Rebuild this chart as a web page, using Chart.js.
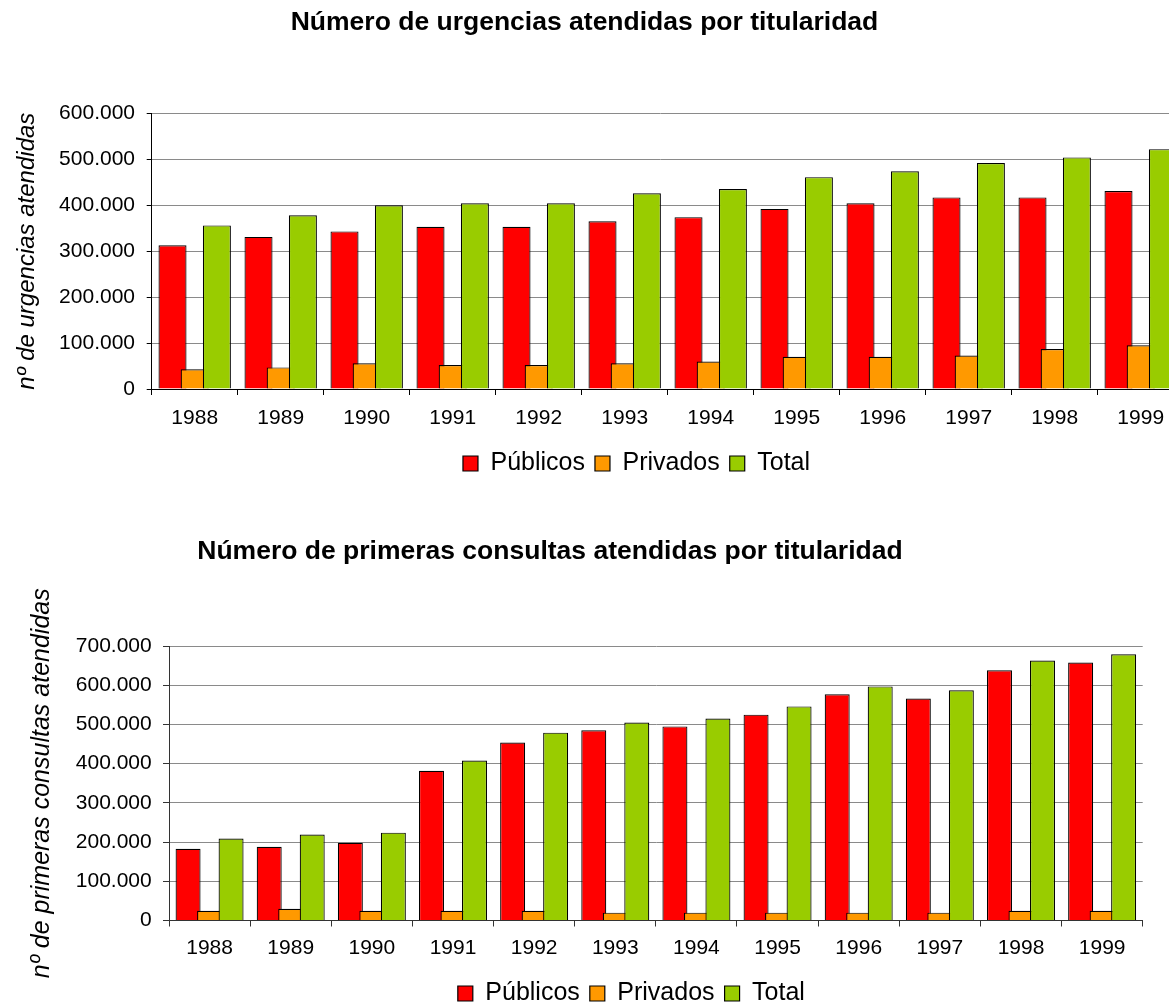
<!DOCTYPE html>
<html><head><meta charset="utf-8">
<script src="https://cdn.jsdelivr.net/npm/chart.js@4/dist/chart.umd.min.js"></script>
<style>
html,body{margin:0;padding:0;background:#fff;overflow:hidden;width:1169px;height:1007px;position:relative;}
canvas{position:absolute;left:0;}
#c1{top:0}
#c2{top:500px}
</style></head><body>
<canvas id="c1" width="1169" height="486"></canvas>
<canvas id="c2" width="1169" height="516"></canvas>
<script>
// ---- data ----
const years = ['1988','1989','1990','1991','1992','1993','1994','1995','1996','1997','1998','1999'];
const seriesNames = ['Públicos','Privados','Total'];

const urgPublicos = [313000,331000,343000,353000,353000,365000,374000,392000,404000,417000,417000,431000];
const urgPrivados = [43000,47000,56000,52000,52000,56000,60000,70000,70000,73000,87000,95000];
const urgTotal    = [356000,378000,400000,404000,404000,426000,435000,461000,474000,492000,504000,522000];

const consPublicos = [183000,188000,198000,382000,454000,485000,495000,525000,577000,566000,638000,658000];
const consPrivados = [25000,30000,25000,25000,25000,20000,20000,20000,20000,20000,25000,25000];
const consTotal    = [209000,219000,224000,408000,479000,505000,515000,546000,597000,587000,663000,679000];

const title1 = 'Número de urgencias atendidas por titularidad';
const yTitle1 = 'nº de urgencias atendidas';
const title2 = 'Número de primeras consultas atendidas por titularidad';
const yTitle2 = 'nº de primeras consultas atendidas';

// ---- styling ----
const seriesColors = ['#FF0000','#FF9900','#99CC00'];
Chart.defaults.font.family = '"Liberation Sans", Arial, sans-serif';
Chart.defaults.color = '#000';

function fmtThousands(v){ return String(v).replace(/\B(?=(\d{3})+(?!\d))/g,'.'); }
function yearTicks(scale){ scale.ticks = years.map(y => ({value: Number(y)})); }

const shiftBoxes = {
  id: 'shiftBoxes',
  afterLayout(chart, args, opts) {
    if (chart.legend && opts.legendDx) { chart.legend.left += opts.legendDx; chart.legend.right += opts.legendDx; }
    if (chart.titleBlock && opts.titleDx) { chart.titleBlock.left += opts.titleDx; chart.titleBlock.right += opts.titleDx; }
  }
};

function buildChart(el, o) {
  const xMin = Number(years[0]) - 0.5;
  const mkHidden = (shift) => ({
    type: 'linear', display: false, offset: false, bounds: 'data',
    min: xMin + shift, max: o.xMax + shift, afterBuildTicks: yearTicks
  });
  const ds = (i, axis, order) => ({
    label: seriesNames[i], data: o.values[i], xAxisID: axis, order: order,
    backgroundColor: seriesColors[i], borderColor: '#000', borderWidth: 1.2, inflateAmount: 0
  });
  return new Chart(el, {
    type: 'bar',
    data: { labels: years, datasets: [ds(0,'xP',3), ds(1,'x',2), ds(2,'xT',1)] },
    options: {
      responsive: false, animation: false,
      layout: { padding: { left: 0, right: o.padRight, top: 0, bottom: 0 } },
      datasets: { bar: { categoryPercentage: 1, barPercentage: o.barPct, grouped: false } },
      scales: {
        x: {
          type: 'linear', position: 'bottom', offset: false, bounds: 'data', min: xMin, max: o.xMax,
          afterBuildTicks: yearTicks,
          afterFit: s => { s.height = o.xAxisHeight; s.paddingLeft = 0; s.paddingRight = 0; },
          grid: { display: true, drawOnChartArea: false, drawTicks: true, tickLength: 6, tickColor: o.axisColor, offset: true },
          border: { display: true, color: o.axisColor, width: 1 },
          ticks: { autoSkip: false, maxRotation: 0, minRotation: 0, padding: o.xPad, color: '#000', font: { size: 21 },
                   callback: v => years.find(y => Number(y) === v) ?? '' }
        },
        xP: mkHidden(o.shift),
        xT: mkHidden(-o.shift),
        y: {
          type: 'linear', position: 'left', min: 0, max: o.yMax,
          afterFit: s => { s.width = o.yAxisWidth; },
          ticks: { stepSize: 100000, padding: o.yPad, color: '#000', font: { size: 21 }, callback: fmtThousands },
          grid: { color: '#8a8a8a', lineWidth: 1, drawTicks: true, tickLength: o.yTick, tickColor: o.axisColor },
          border: { color: o.axisColor, width: 1 },
          title: { display: true, text: o.yTitle, color: '#000',
                   font: { size: o.yTitleSize, style: 'italic' }, padding: { top: o.yTitlePad, bottom: 0 } }
        }
      },
      plugins: {
        title: { display: true, text: o.title, color: '#000', font: { size: 26.5, weight: 'bold' },
                 padding: { top: o.titleTop, bottom: o.titleBottom } },
        legend: { position: 'bottom',
                  labels: { color: '#000', font: { size: 25 }, boxWidth: 15, boxHeight: 15, padding: 10,
                            sort: (a, b) => a.datasetIndex - b.datasetIndex } },
        tooltip: { enabled: false },
        shiftBoxes: { legendDx: o.legendDx, titleDx: o.titleDx }
      }
    },
    plugins: [shiftBoxes]
  });
}

buildChart(document.getElementById('c1'), {
  values: [urgPublicos, urgPrivados, urgTotal],
  title: title1, yTitle: yTitle1, yMax: 600000,
  xMax: 1987.5 + (1169 - 151.7) / 86, padRight: 0,
  barPct: 0.326, shift: 0.258,
  xAxisHeight: 52, xPad: 11,
  yAxisWidth: 151.7, yPad: 11.7, yTick: 5,
  yTitleSize: 24, yTitlePad: 12.6,
  titleTop: 7, titleBottom: 74.5,
  legendDx: 52, titleDx: 0, axisColor: '#000'
});

buildChart(document.getElementById('c2'), {
  values: [consPublicos, consPrivados, consTotal],
  title: title2, yTitle: yTitle2, yMax: 700000,
  xMax: 1999.5, padRight: 26.3,
  barPct: 0.308, shift: 0.265,
  xAxisHeight: 50.5, xPad: 9.4,
  yAxisWidth: 169, yPad: 11.3, yTick: 6,
  yTitleSize: 25, yTitlePad: 26.7,
  titleTop: 36, titleBottom: 78.2,
  legendDx: 60, titleDx: -21.4, axisColor: '#333'
});
</script>
</body></html>
